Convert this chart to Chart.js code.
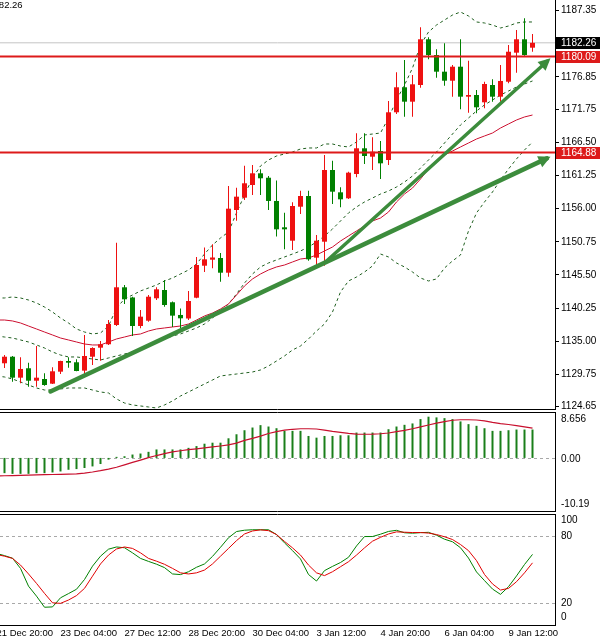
<!DOCTYPE html>
<html><head><meta charset="utf-8">
<script src="https://cdn.jsdelivr.net/npm/chart.js@4.4.0/dist/chart.umd.min.js"></script>
<style>
html,body{margin:0;padding:0;background:#fff;overflow:hidden;}
#wrap{position:relative;width:600px;height:642px;background:#fff;}
canvas{position:absolute;left:0;}
</style></head><body>
<div id="wrap">
<canvas id="main" width="600" height="410" style="top:0px"></canvas>
<canvas id="macd" width="600" height="100" style="top:412px"></canvas>
<canvas id="stoch" width="600" height="129" style="top:513px"></canvas>
</div>
<script>
// ---------- DATA (H4 bars, index 0 = 21 Dec 20:00) ----------
const xTickIdx = [0, 8, 16, 24, 32, 40, 48, 56, 64];
const xTickLabels = ['21 Dec 20:00','23 Dec 04:00','27 Dec 12:00','28 Dec 20:00','30 Dec 04:00','3 Jan 12:00','4 Jan 20:00','6 Jan 04:00','9 Jan 12:00'];
const priceTicks = [1187.35,1176.85,1171.75,1166.50,1161.25,1156.00,1150.75,1145.50,1140.25,1135.00,1129.75,1124.65];
const bidPrice = 1182.26;
const levels = [1180.09, 1164.88];
const trendLines = [[6.75,1127.05,68.8,1163.96],[41.125,1147.56,68.875,1179.38]];
const macdTicks = [8.656, 0, -10.19];
const stochTicks = [100, 80, 20, 0];
const stochLevels = [80, 20];

const open  = [1131.60,1131.52,1132.56,1129.24,1130.73,1128.76,1129.03,1128.29,1130.19,1131.88,1131.68,1130.35,1132.56,1133.99,1134.53,1137.58,1143.55,1141.94,1137.42,1138.26,1141.81,1143.12,1141.18,1139.17,1138.61,1141.90,1146.97,1147.92,1148.19,1145.86,1155.79,1157.74,1159.75,1161.60,1160.90,1157.22,1153.05,1150.93,1156.31,1158.01,1148.24,1150.77,1162.12,1158.59,1157.64,1161.49,1165.56,1164.23,1165.13,1163.71,1171.26,1175.22,1172.94,1175.58,1182.82,1180.33,1177.69,1176.26,1178.48,1173.73,1174.00,1172.84,1175.58,1173.73,1176.10,1180.70,1182.82,1181.49];
const high  = [1132.40,1132.83,1132.67,1132.47,1131.61,1134.26,1129.94,1130.89,1131.93,1132.47,1132.15,1136.00,1134.05,1135.05,1138.37,1150.61,1143.92,1142.06,1139.96,1142.33,1143.55,1144.71,1141.30,1140.19,1142.97,1148.35,1149.85,1150.38,1148.98,1159.59,1159.32,1162.80,1162.91,1162.23,1161.17,1160.46,1155.36,1157.01,1158.85,1158.85,1151.83,1164.50,1163.60,1159.38,1161.85,1167.93,1167.93,1167.30,1166.72,1173.05,1177.59,1179.54,1177.17,1184.72,1183.13,1181.23,1182.18,1178.75,1182.82,1179.43,1174.79,1176.10,1176.48,1178.75,1181.92,1184.29,1186.14,1183.66];
const low   = [1130.90,1130.77,1128.61,1128.35,1127.81,1127.81,1127.97,1128.24,1129.82,1130.82,1130.25,1129.67,1131.25,1131.93,1134.42,1137.42,1140.91,1135.84,1137.06,1138.11,1141.54,1140.48,1137.27,1137.11,1138.37,1141.81,1145.97,1146.56,1144.44,1145.23,1154.10,1157.37,1158.17,1158.17,1155.79,1151.59,1149.57,1149.46,1155.16,1147.76,1146.72,1146.97,1156.74,1156.22,1157.53,1160.97,1163.07,1162.12,1160.70,1162.92,1170.99,1170.56,1170.56,1175.15,1179.65,1176.74,1175.47,1173.73,1171.73,1171.20,1171.10,1171.89,1172.94,1172.94,1175.85,1177.53,1180.22,1180.85];
const close = [1131.30,1132.56,1129.24,1130.62,1128.76,1129.24,1128.08,1130.25,1131.88,1131.61,1130.30,1132.67,1133.94,1134.53,1137.74,1143.55,1141.65,1137.42,1138.90,1142.06,1143.23,1140.75,1139.06,1138.64,1141.38,1147.08,1147.98,1148.27,1145.86,1156.00,1157.90,1160.02,1161.60,1160.81,1157.22,1152.73,1152.73,1156.42,1158.01,1147.98,1150.93,1162.12,1158.69,1157.48,1161.70,1165.56,1164.34,1165.02,1163.18,1171.26,1175.22,1172.94,1175.69,1182.82,1180.33,1177.69,1176.26,1178.48,1173.73,1174.00,1172.05,1175.74,1173.73,1176.22,1180.85,1182.82,1180.33,1182.26];

const bbUpper  = [1141.86,1141.86,1142.02,1141.86,1141.54,1141.07,1140.43,1139.64,1138.69,1137.90,1136.95,1136.47,1136.16,1136.32,1137.42,1140.27,1141.70,1142.33,1142.97,1143.44,1143.92,1144.55,1145.02,1145.66,1146.29,1147.24,1148.82,1150.25,1151.36,1152.31,1155.32,1158.17,1160.86,1162.76,1163.71,1164.34,1164.66,1164.97,1165.45,1165.61,1165.61,1166.24,1166.24,1165.92,1165.77,1166.56,1167.67,1167.82,1167.98,1170.36,1173.21,1175.58,1178.27,1181.92,1183.97,1185.08,1185.87,1186.66,1187.14,1186.51,1185.56,1185.40,1185.08,1184.61,1184.92,1185.40,1185.56,1185.56];
const bbMiddle = [1135.84,1135.68,1135.52,1135.21,1134.89,1134.42,1133.94,1133.31,1132.83,1132.52,1132.52,1132.36,1132.20,1132.04,1132.36,1132.68,1132.99,1133.31,1133.78,1134.26,1134.89,1135.37,1135.84,1136.16,1136.63,1137.11,1137.74,1138.69,1139.80,1140.91,1142.49,1144.23,1145.66,1146.77,1147.40,1147.88,1148.35,1148.82,1149.30,1149.93,1150.72,1151.68,1152.78,1154.05,1155.32,1156.27,1157.06,1157.69,1158.32,1158.80,1159.43,1160.22,1161.17,1162.44,1163.71,1164.97,1166.40,1167.82,1169.25,1170.36,1171.47,1172.42,1173.21,1174.00,1174.63,1175.27,1175.74,1176.22];
const bbLower  = [1129.51,1129.35,1129.03,1128.56,1128.08,1127.61,1127.29,1127.29,1127.45,1127.61,1127.61,1127.61,1127.29,1126.97,1126.82,1125.87,1125.23,1124.92,1124.76,1124.60,1124.44,1124.92,1125.55,1126.34,1126.97,1127.61,1128.24,1128.87,1129.51,1129.67,1129.82,1129.98,1130.14,1130.46,1131.09,1131.88,1132.68,1133.62,1134.26,1135.37,1136.63,1137.74,1139.64,1142.81,1144.55,1145.18,1145.97,1146.93,1148.82,1148.35,1147.40,1146.77,1145.97,1145.02,1144.55,1144.87,1146.61,1147.72,1148.67,1152.47,1155.32,1157.06,1158.64,1160.54,1162.28,1163.87,1165.29,1166.56];
const maSlow   = [1138.37,1138.37,1138.22,1137.90,1137.42,1136.95,1136.47,1136.00,1135.52,1135.21,1134.89,1134.57,1134.42,1134.42,1134.89,1135.37,1135.68,1136.00,1136.16,1136.63,1136.95,1137.11,1137.27,1137.42,1137.74,1138.37,1139.01,1139.48,1140.12,1140.91,1142.33,1143.76,1144.87,1145.66,1146.29,1146.77,1147.08,1147.56,1148.03,1148.19,1148.67,1149.30,1149.93,1150.88,1151.68,1152.47,1153.26,1154.05,1154.52,1155.47,1157.06,1158.32,1159.27,1160.70,1162.28,1163.39,1164.50,1165.13,1165.77,1166.40,1167.03,1167.51,1167.98,1168.77,1169.41,1170.04,1170.52,1170.83];

const macdHist   = [-2.80,-2.87,-3.00,-3.00,-3.00,-2.87,-2.87,-2.74,-2.55,-2.23,-2.10,-1.90,-1.60,-1.15,-0.32,0.20,0.32,0.64,0.83,1.15,1.60,1.60,1.60,1.60,1.90,2.23,2.68,2.87,2.87,3.70,4.46,5.22,5.73,6.18,5.92,5.60,5.10,5.10,5.10,4.14,3.82,4.14,4.14,4.27,4.27,4.78,4.78,4.78,4.78,5.41,5.92,6.24,6.50,7.32,7.77,7.64,7.50,7.32,6.88,6.37,6.05,5.60,5.10,5.10,5.22,5.35,5.35,5.35];
const macdSignal = [-3.38,-3.36,-3.32,-3.28,-3.24,-3.20,-3.16,-3.12,-3.09,-3.06,-3.00,-2.85,-2.65,-2.40,-2.10,-1.75,-1.30,-0.85,-0.40,0.05,0.45,0.80,1.15,1.35,1.55,1.72,1.90,2.08,2.25,2.45,2.80,3.30,3.70,4.10,4.60,4.95,5.25,5.40,5.50,5.50,5.45,5.25,5.00,4.80,4.62,4.50,4.46,4.48,4.56,4.70,4.95,5.20,5.50,5.86,6.20,6.55,6.85,7.10,7.20,7.20,7.15,7.00,6.70,6.45,6.30,6.10,5.85,5.60];

const stochK = [64.5,62.5,60.2,51,35,26,16,16.3,24.5,28.3,32.2,41,53,62,68.3,70.3,69.6,65,60,57.3,54.8,51.7,46,45.4,48,52,55,61.8,70,78.6,84.2,85.4,85.8,85.8,85.8,81.5,74,67,59.5,45.5,39.6,49,52.8,56.3,61,71.2,79.7,79.7,81.8,84.3,85.3,83.1,82.7,83.2,83.5,80.9,77.3,75,69.6,60.3,47.8,40,32.4,27.6,34.5,44.2,54.5,63.6];
const stochD = [63.5,62,60,54,46,37.5,28.5,20,19.5,22.5,26.5,33,44,55,63,68.5,70.3,69,65,60,57.5,54.7,51,47,46,47,49.5,55,62,69,76,82,84.7,85.7,85,81.5,75.3,69.5,63,54,47,44.5,48,52.5,57,63,69.5,75.5,79,82,83.9,83.6,83.3,83.3,82.8,81.5,79.5,77,72.5,67,58,45.5,37,31.5,33,39,47,56];

// ---------- STYLE ----------
const BULL = '#ee1111', BEAR = '#008000', BB = '#1f5f1f', LEVEL = '#dd1a1a', TREND = '#3c8c3c';
const FONT = 'Liberation Sans';
const X_MIN = 0.4375, X_MAX = 69.8125;
const P_MIN = 1124.28, P_MAX = 1189.04;
Chart.defaults.font.family = FONT;
Chart.defaults.color = '#000';

const idx = open.map((_, i) => i);
const pts = arr => arr.map((v, i) => ({x: i, y: v}));
const candleColor = c => (close[c.dataIndex] >= open[c.dataIndex] ? BULL : BEAR);

function xAxis(show) {
  const ax = {
    type: 'linear', min: X_MIN, max: X_MAX, offset: false, display: show,
    grid: {display: false, drawTicks: false},
    border: {display: show, color: '#000'},
    afterBuildTicks: s => { s.ticks = xTickIdx.map(v => ({value: v})); },
    ticks: {autoSkip: false, maxRotation: 0, minRotation: 0, align: 'start', padding: 3,
      color: '#000', font: {family: FONT, size: 9.5},
      callback: v => xTickLabels[xTickIdx.indexOf(v)]}
  };
  if (show) ax.afterFit = s => { s.height = 17; s.paddingLeft = 0; s.paddingRight = 0; };
  else ax.afterFit = s => { s.height = 0; s.width = 0; s.paddingLeft = 0; s.paddingRight = 0; };
  return ax;
}
function plainY(min, max) {
  return {
    type: 'linear', position: 'right', min: min, max: max,
    grid: {display: false}, border: {display: true, color: '#000'},
    ticks: {display: false},
    afterFit: s => { s.width = 45; s.paddingTop = 0; s.paddingBottom = 0; }
  };
}
function lineDs(data, color, width, order, dash) {
  return {type: 'line', data: data, borderColor: color, borderWidth: width, pointRadius: 0,
    tension: 0, fill: false, order: order, borderDash: dash || []};
}
function hLine(ctx, area, y, color, dash) {
  ctx.save(); ctx.strokeStyle = color; ctx.lineWidth = 1; ctx.setLineDash(dash || []);
  ctx.beginPath(); ctx.moveTo(area.left, Math.round(y) + 0.5); ctx.lineTo(area.right, Math.round(y) + 0.5); ctx.stroke();
  ctx.restore();
}
function axisLabels(chart, list) {
  const ctx = chart.ctx, s = chart.scales.y;
  ctx.save(); ctx.fillStyle = '#000'; ctx.font = '10px "' + FONT + '"'; ctx.textBaseline = 'middle'; ctx.textAlign = 'left';
  list.forEach(([v, off, txt]) => ctx.fillText(txt, 561, s.getPixelForValue(v) + off));
  ctx.restore();
}
const common = {responsive: false, animation: false, events: [],
  plugins: {legend: {display: false}, tooltip: {enabled: false}}};

// ---------- MAIN PRICE CHART ----------
const mainDecor = {
  id: 'mainDecor',
  afterDatasetsDraw(chart) {
    const ctx = chart.ctx;
    chart.data.datasets.forEach((ds, i) => {
      if (!ds.isTrend) return;
      const el = chart.getDatasetMeta(i).data;
      const a = el[0], b = el[el.length - 1];
      const ang = Math.atan2(b.y - a.y, b.x - a.x), c = Math.cos(ang), s = Math.sin(ang);
      const L = 12, W = 6, ext = 4;
      const tx = b.x + ext * c, ty = b.y + ext * s, bx = tx - L * c, by = ty - L * s;
      ctx.save(); ctx.fillStyle = ds.borderColor; ctx.beginPath();
      ctx.moveTo(tx, ty); ctx.lineTo(bx + W * s, by - W * c); ctx.lineTo(bx - W * s, by + W * c);
      ctx.closePath(); ctx.fill(); ctx.restore();
    });
  },
  afterDraw(chart) {
    const ctx = chart.ctx, a = chart.chartArea, y = chart.scales.y;
    ctx.save();
    ctx.strokeStyle = '#000'; ctx.lineWidth = 1;
    ctx.beginPath(); ctx.moveTo(0, a.bottom + 0.5); ctx.lineTo(a.right, a.bottom + 0.5); ctx.stroke();
    ctx.font = '10px "' + FONT + '"'; ctx.textBaseline = 'middle'; ctx.textAlign = 'left';
    const box = (v, bg) => {
      const py = y.getPixelForValue(v);
      ctx.fillStyle = bg; ctx.fillRect(a.right + 1, Math.round(py) - 6, 44, 12);
      ctx.fillStyle = '#fff'; ctx.fillText(v.toFixed(2), 561, py + 0.5);
    };
    box(bidPrice, '#000');
    levels.forEach(v => box(v, LEVEL));
    ctx.fillStyle = '#000'; ctx.font = '9.5px "' + FONT + '"'; ctx.textBaseline = 'top';
    ctx.fillText(bidPrice.toFixed(2), -11, 1);
    ctx.restore();
  }
};

const mainDatasets = [];
trendLines.forEach((t, k) => {
  const d = lineDs([{x: t[0], y: t[1]}, {x: t[2], y: t[3]}], TREND, k === 0 ? 4.5 : 3.5, 0);
  d.isTrend = true; d.borderCapStyle = 'round';
  mainDatasets.push(d);
});
levels.forEach(v => mainDatasets.push(lineDs([{x: X_MIN, y: v}, {x: X_MAX, y: v}], LEVEL, 2, 1)));
mainDatasets.push(lineDs([{x: X_MIN, y: bidPrice}, {x: X_MAX, y: bidPrice}], '#c4c4c4', 1, 7));
mainDatasets.push({type: 'bar', data: idx.map(i => ({x: i, y: [open[i], close[i]]})), backgroundColor: candleColor,
  barThickness: 5, minBarLength: 1, grouped: false, inflateAmount: 0, order: 2});
mainDatasets.push({type: 'bar', data: idx.map(i => ({x: i, y: [low[i], high[i]]})), backgroundColor: candleColor,
  barThickness: 1, grouped: false, inflateAmount: 0, order: 3});
mainDatasets.push(lineDs(pts(maSlow), '#cc1030', 1, 4));
[bbUpper, bbMiddle, bbLower].forEach(b => mainDatasets.push(lineDs(pts(b), BB, 1, 5, [3, 3])));

new Chart(document.getElementById('main'), {
  type: 'bar',
  data: {datasets: mainDatasets},
  options: Object.assign({}, common, {
    layout: {padding: {top: 0, left: 0, right: 0, bottom: 1}},
    scales: {
      x: xAxis(false),
      y: {
        type: 'linear', position: 'right', min: P_MIN, max: P_MAX,
        afterBuildTicks: s => { s.ticks = priceTicks.map(v => ({value: v})); },
        afterFit: s => { s.width = 45; s.paddingTop = 0; s.paddingBottom = 0; },
        ticks: {autoSkip: false, padding: 2, color: '#000', font: {family: FONT, size: 10}, callback: v => v.toFixed(2)},
        grid: {drawOnChartArea: false, drawTicks: true, tickLength: 4, color: '#000', tickColor: '#000'},
        border: {display: true, color: '#000'}
      }
    }
  }),
  plugins: [mainDecor]
});

// ---------- MACD ----------
const macdDecor = {
  id: 'macdDecor',
  beforeDatasetsDraw(chart) {
    hLine(chart.ctx, chart.chartArea, chart.scales.y.getPixelForValue(0), '#a8a8a8', [3, 3]);
  },
  afterDraw(chart) {
    const ctx = chart.ctx, a = chart.chartArea;
    ctx.save(); ctx.strokeStyle = '#000'; ctx.lineWidth = 1; ctx.beginPath();
    ctx.moveTo(0, a.top + 0.5); ctx.lineTo(a.right, a.top + 0.5);
    ctx.moveTo(0, a.bottom - 0.5); ctx.lineTo(a.right, a.bottom - 0.5); ctx.stroke(); ctx.restore();
    axisLabels(chart, [[macdTicks[0], 7, macdTicks[0].toFixed(3)], [macdTicks[1], 1, macdTicks[1].toFixed(2)], [macdTicks[2], -8, macdTicks[2].toFixed(2)]]);
  }
};
new Chart(document.getElementById('macd'), {
  type: 'bar',
  data: {datasets: [
    lineDs(pts(macdSignal), '#c8102e', 1.2, 0),
    {type: 'bar', data: pts(macdHist), backgroundColor: '#1a7f1a', barThickness: 2, grouped: false, inflateAmount: 0, order: 1}
  ]},
  options: Object.assign({}, common, {
    layout: {padding: 0},
    scales: {x: xAxis(false), y: plainY(macdTicks[2], macdTicks[0])}
  }),
  plugins: [macdDecor]
});

// ---------- STOCHASTIC ----------
const stochDecor = {
  id: 'stochDecor',
  beforeDatasetsDraw(chart) {
    stochLevels.forEach(v => hLine(chart.ctx, chart.chartArea, chart.scales.y.getPixelForValue(v), '#a8a8a8', [3, 3]));
  },
  afterDraw(chart) {
    const ctx = chart.ctx, a = chart.chartArea;
    ctx.save(); ctx.strokeStyle = '#000'; ctx.lineWidth = 1; ctx.beginPath();
    ctx.moveTo(0, a.top + 0.5); ctx.lineTo(a.right, a.top + 0.5); ctx.stroke(); ctx.restore();
    axisLabels(chart, [[stochTicks[0], 6.5, '100'], [stochTicks[1], 0.5, '80'], [stochTicks[2], 0, '20'], [stochTicks[3], -7.5, '0']]);
  }
};
new Chart(document.getElementById('stoch'), {
  type: 'line',
  data: {datasets: [
    lineDs(pts(stochK), '#008000', 1, 1),
    lineDs(pts(stochD), '#e00000', 1, 0)
  ]},
  options: Object.assign({}, common, {
    layout: {padding: {top: 1, left: 0, right: 0, bottom: 0}},
    scales: {x: xAxis(true), y: plainY(0, 100)}
  }),
  plugins: [stochDecor]
});
</script>
</body></html>
